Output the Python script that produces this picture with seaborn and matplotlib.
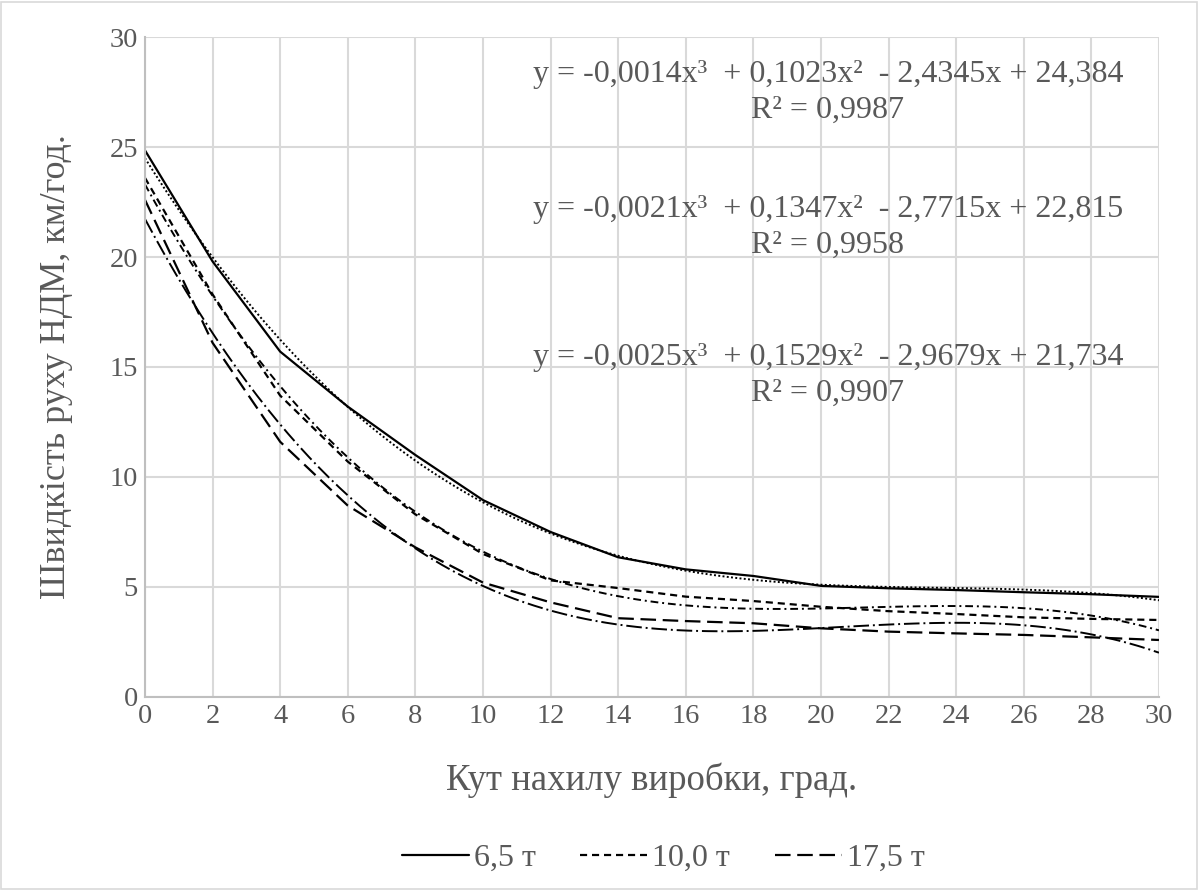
import numpy as np
import pandas as pd
import matplotlib
matplotlib.use("Agg")
import matplotlib.pyplot as plt
from matplotlib.lines import Line2D
from matplotlib.patches import Rectangle
import seaborn as sns

# ---- data ----
angles = [0, 2, 4, 6, 8, 10, 12, 14, 16, 18, 20, 22, 24, 26, 28, 30]
speed_65 = [24.85, 19.8, 15.7, 13.2, 11.0, 8.95, 7.5, 6.35, 5.8, 5.5, 5.05, 4.94, 4.86, 4.76, 4.67, 4.55]
speed_100 = [23.6, 18.3, 13.7, 10.7, 8.3, 6.5, 5.3, 4.95, 4.56, 4.36, 4.1, 3.9, 3.77, 3.62, 3.55, 3.5]
speed_175 = [22.6, 16.1, 11.6, 8.7, 6.8, 5.2, 4.3, 3.58, 3.45, 3.35, 3.12, 2.97, 2.89, 2.82, 2.71, 2.59]
series_labels = ["6,5 т", "10,0 т", "17,5 т"]
equations = [
    "y = -0,0014x³  + 0,1023x²  - 2,4345x + 24,384\nR² = 0,9987",
    "y = -0,0021x³  + 0,1347x²  - 2,7715x + 22,815\nR² = 0,9958",
    "y = -0,0025x³  + 0,1529x²  - 2,9679x + 21,734\nR² = 0,9907",
]
x_label = "Кут нахилу виробки, град."
y_label = "Швидкість руху НДМ, км/год."

sns.set_style("white")
plt.rcParams["font.family"] = ["Liberation Serif", "DejaVu Serif"]

TXT = "#595959"
fig = plt.figure(figsize=(11.99, 8.90), dpi=100)
ax = fig.add_axes([0.1209, 0.2169, 0.8457, 0.7415])

series = [speed_65, speed_100, speed_175]
data_styles = ["-", (0, (3.2, 2.2)), (0, (7, 3))]
trend_styles = [(0, (1, 1.2)), (0, (4, 2, 1, 2)), (0, (8, 2, 1, 2))]

handles = []
for vals, lab, ds, ts in zip(series, series_labels, data_styles, trend_styles):
    df = pd.DataFrame({"x": angles, "y": vals})
    sns.lineplot(data=df, x="x", y="y", ax=ax, color="black", lw=1.6,
                 linestyle=ds, legend=False)
    sns.regplot(data=df, x="x", y="y", ax=ax, order=3, ci=None, scatter=False,
                truncate=True, color="black",
                line_kws={"lw": 1.4, "linestyle": ts})
    handles.append(Line2D([], [], color="black", lw=1.6, linestyle=ds, label=lab))

ax.set_xlim(0, 30)
ax.set_ylim(0, 30)
ax.set_xticks(range(0, 31, 2))
ax.set_yticks(range(0, 31, 5))
ax.grid(True, color="#d9d9d9", lw=1.5)
ax.set_axisbelow(True)
for s in ["top", "right"]:
    ax.spines[s].set_visible(False)
for s in ["left", "bottom"]:
    ax.spines[s].set_color("#bfbfbf")
    ax.spines[s].set_linewidth(1.5)
ax.tick_params(length=0, labelsize=20.5, colors=TXT, pad=5)
ax.set_xlabel(x_label, fontsize=26.5, color=TXT, labelpad=24)
ax.set_ylabel(y_label, fontsize=26, color=TXT, labelpad=26)

for eq, yc in zip(equations, [0.9159, 0.7114, 0.4871]):
    ax.text(0.6736, yc, eq, transform=ax.transAxes, ha="center", va="center",
            fontsize=23, color=TXT, linespacing=1.3)

fig.legend(handles=handles, loc="center", bbox_to_anchor=(0.553, 1 - 858 / 890),
           ncol=3, frameon=False, fontsize=23, handlelength=2.1,
           columnspacing=1.4, handletextpad=0.15, labelcolor=TXT)

fig.patches.append(Rectangle((0.001, 0.001), 0.997, 0.997, transform=fig.transFigure,
                             fill=False, ec="#d9d9d9", lw=1.2))

fig.savefig("out.png", dpi=100)
